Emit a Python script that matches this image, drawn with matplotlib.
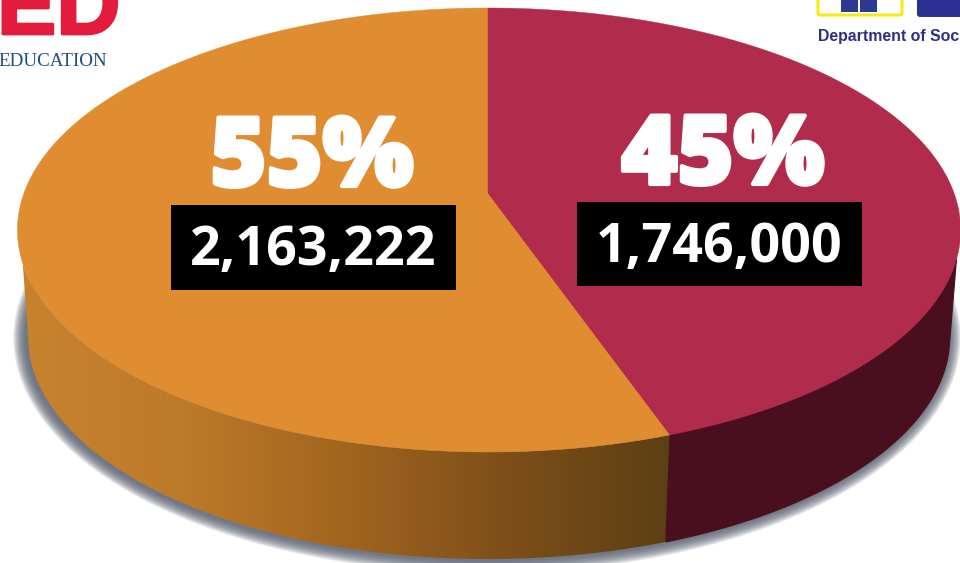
import numpy as np
import matplotlib
matplotlib.use("Agg")
import matplotlib.pyplot as plt
import matplotlib.patheffects as pe
from matplotlib.colors import LinearSegmentedColormap
from matplotlib.patches import Polygon, Rectangle, FancyBboxPatch

# Pie data
categories = ["left", "right"]
values = [2163222, 1746000]
percent_labels = ["55%", "45%"]
value_labels = ["2,163,222", "1,746,000"]

ORANGE = "#e08d32"
RED = "#b02b4c"
DARK_RED = "#4a0f1e"


# Disc to picture, with the perspective that puts the pie centre above the ellipse centre
def project(t):
    u = np.sin(t)
    v = np.cos(t)
    w = 1 + v / 6
    radius = np.where(u > 0, 466, 464)
    return np.column_stack([488 + radius * u / w, (193 - 183.67 * v) / w])


# Bottom edge of the wall, a bit narrower than the top face
def bottom_edge(t):
    top = project(t)
    return np.column_stack([488 + 0.977 * (top[:, 0] - 488), top[:, 1] + 107])


fig = plt.figure(figsize=(9.6, 5.63), dpi=100)
ax = fig.add_axes([0, 0, 1, 1])
ax.set_xlim(0, 960)
ax.set_ylim(563, 0)
ax.axis("off")

# Soft shadow round the bottom edge, its upper part stays hidden behind the pie
t_all = np.linspace(0, 2 * np.pi, 400)
for grow in np.arange(13, 0, -1):
    shadow = bottom_edge(t_all)
    shadow[:, 0] = 486 + (shadow[:, 0] - 488) * (1 + grow / 462)
    shadow[:, 1] = 338 + (shadow[:, 1] - 338) * (1 + grow / 220) + 1
    ax.add_patch(Polygon(shadow, fc="#5a5f70", ec="none", alpha=0.13, zorder=1))

# Split angle comes from the values, clockwise from the top
split = 2 * np.pi * values[1] / sum(values)

# Side wall, orange part
rim_top = project(np.linspace(split, np.radians(252), 300))
rim_bot = bottom_edge(np.linspace(split, np.radians(260), 300))
orange_side = np.vstack([rim_top, rim_bot[::-1]])
side_cmap = LinearSegmentedColormap.from_list(
    "side", ["#c8832e", "#bd7a2a", "#a2651f", "#7d4e19", "#5c3f14"])
gradient = np.linspace(0, 1, 256).reshape(1, -1)
im = ax.imshow(gradient, extent=[15, 675, 563, 200], cmap=side_cmap, aspect="auto", zorder=2)
im.set_clip_path(Polygon(orange_side, transform=ax.transData))
ax.set_xlim(0, 960)
ax.set_ylim(563, 0)

# Side wall, red part
rim_top = project(np.linspace(np.radians(107), split, 200))
rim_bot = bottom_edge(np.linspace(np.radians(102), split, 200))
red_side = np.vstack([rim_top, rim_bot[::-1]])
ax.add_patch(Polygon(red_side, fc=DARK_RED, ec=DARK_RED, lw=0.8, zorder=2.5))

# Top faces
t_right = np.linspace(0, split, 300)
t_left = np.linspace(split, 2 * np.pi, 400)
centre = [[488, 193]]
ax.add_patch(Polygon(np.vstack([centre, project(t_left)]), fc=ORANGE, ec=ORANGE, lw=0.3, zorder=3))
ax.add_patch(Polygon(np.vstack([centre, project(t_right)]), fc=RED, ec=RED, lw=0.3, zorder=3))

# Labels on the slices
fat = [pe.withStroke(linewidth=3, foreground="white")]
font = ["Open Sans", "DejaVu Sans"]
ax.text(312, 186, percent_labels[0], color="white", fontsize=69, fontweight=800, family=font,
        ha="center", va="baseline", path_effects=fat, zorder=5)
ax.text(723, 184, percent_labels[1], color="white", fontsize=69, fontweight=800, family=font,
        ha="center", va="baseline", path_effects=fat, zorder=5)
ax.add_patch(Rectangle((171, 205), 285, 85, fc="black", ec="none", zorder=4))
ax.add_patch(Rectangle((577, 202), 285, 84, fc="black", ec="none", zorder=4))
ax.text(313.5, 265, value_labels[0], color="white", fontsize=38.8, fontweight="bold", family=font,
        ha="center", va="baseline", zorder=5)
ax.text(719.5, 262, value_labels[1], color="white", fontsize=38.8, fontweight="bold", family=font,
        ha="center", va="baseline", zorder=5)

# Cropped logos at the top corners
ax.text(-3, 34, "ED", color="#e31b3d", fontsize=64, fontweight="bold", family="Liberation Sans",
        ha="left", va="baseline", zorder=6,
        path_effects=[pe.withStroke(linewidth=2, foreground="#e31b3d")])
ax.text(-2, 66, "EDUCATION", color="#1f4e7d", fontsize=13.7, family="Liberation Serif",
        ha="left", va="baseline", zorder=6)
ax.add_patch(FancyBboxPatch((818, -20), 84, 35, boxstyle="round,pad=0,rounding_size=2",
                            fc="white", ec="#f5ea14", lw=2.2, zorder=6))
ax.add_patch(Rectangle((841, -2), 17, 14, fc="#2b3990", ec="none", zorder=7))
ax.add_patch(Rectangle((860, -2), 17, 14, fc="#2b3990", ec="none", zorder=7))
ax.add_patch(FancyBboxPatch((917, -20), 60, 37, boxstyle="round,pad=0,rounding_size=3",
                            fc="#2b3092", ec="none", zorder=6))
ax.text(818, 41, "Department of Soc", color="#2e2e86", fontsize=11.4, fontweight="bold",
        family="Liberation Sans", ha="left", va="baseline", zorder=6)

fig.savefig("out.png", dpi=100)
